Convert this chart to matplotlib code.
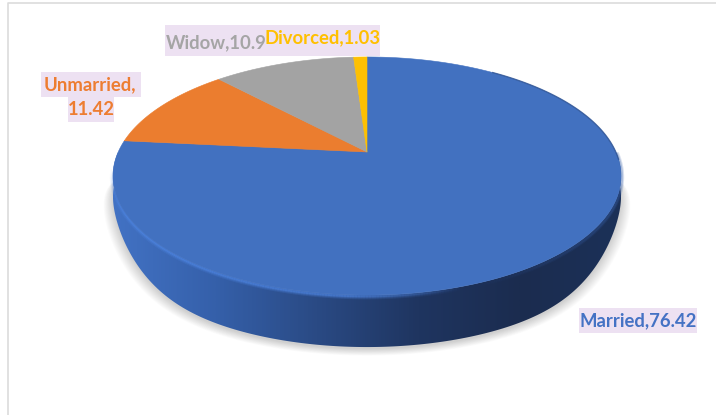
import numpy as np
import matplotlib
matplotlib.use("Agg")
import matplotlib.pyplot as plt
from matplotlib.collections import LineCollection
from matplotlib.colors import LinearSegmentedColormap, to_rgb
from matplotlib.patches import Polygon, Rectangle

plt.rcParams['font.family'] = ['Lato', 'DejaVu Sans']

categories = ["Married", "Unmarried", "Widow", "Divorced"]
values = [76.42, 11.42, 10.9, 1.03]
colors = ["#4271c0", "#eb7d2f", "#a3a3a3", "#fdc002"]
label_colors = ["#4472c4", "#ed7d31", "#a5a5a5", "#ffc000"]

# pie centre in pixels and the perspective used to tilt the disc
CX, CY = 367, 152
A, B, K = 248.8, 114.2, 0.2017
DEPTH = 52
FONT_SIZE = 13.3


def project(theta):
    """Clockwise angle from 12 o'clock to a point on the tilted rim"""
    u, v = np.sin(theta), np.cos(theta)
    return CX + A * u / (1 + K * v), CY - B * v / (1 + K * v)


def bottom_rim(theta):
    """Underside of the disc, the wall looks shallower towards the sides"""
    x, y = project(theta)
    reach = np.abs(x - CX) / 254
    return x, y + DEPTH * (1 - 0.6 * reach ** 8)


fig = plt.figure(figsize=(7.16, 4.15), dpi=100)
ax = fig.add_axes([0, 0, 1, 1])
ax.set_xlim(0, 716)
ax.set_ylim(415, 0)
ax.axis('off')

# thin chart frame, only the top and left edges are in view
ax.plot([8, 8, 716], [415, 3.5, 3.5], color="#dcdcdc", lw=1.2, zorder=1)

# soft shadow below the disc
t = np.linspace(0, 2 * np.pi, 400)
low_x, low_y = bottom_rim(t)
for grow in np.linspace(11, 0, 12):
    ax.add_patch(Polygon(np.c_[CX + (low_x - CX) * (1 + grow / 300),
                               low_y + 2 + grow * 0.6],
                         fc="#000000", ec="none", alpha=0.014, zorder=2))

# side wall, shaded from left to right and clipped to the extruded outline
side_cmap = LinearSegmentedColormap.from_list(
    "side", ["#4272c4", "#3560aa", "#2a4a84", "#1f3560", "#1b2c4f", "#1c3158"])
wall = np.linspace(0, 1, 512)[None, :]
rim_x, rim_y = project(t)
im = ax.imshow(wall, cmap=side_cmap, extent=(rim_x.min(), rim_x.max(), 360, 120),
               aspect='auto', zorder=3)
ax.set_xlim(0, 716)
ax.set_ylim(415, 0)

lx, ly = bottom_rim(np.linspace(1.5 * np.pi, 0.5 * np.pi, 200))
tx, ty = project(np.linspace(0.5 * np.pi, 1.5 * np.pi, 200))
wall_path = Polygon(np.r_[np.c_[lx, ly], np.c_[tx, ty]], fc="none", ec="none")
ax.add_patch(wall_path)
im.set_clip_path(wall_path)

# bevel where the top face meets the wall, bright on the left fading out to the right
bevel = np.linspace(1.46 * np.pi, 0.9 * np.pi, 200)
bx, by = project(bevel)
points = np.c_[bx, by + 1.2]
segments = np.stack([points[:-1], points[1:]], axis=1)
fade = np.clip(np.sin((1.46 * np.pi - bevel[:-1]) / (0.56 * np.pi) * np.pi) * 1.6, 0, 1)
for width, alpha in [(4.5, 0.2), (3.0, 0.3), (1.6, 0.5)]:
    rgba = np.c_[np.tile(to_rgb("#4f86e2"), (len(fade), 1)), fade * alpha]
    ax.add_collection(LineCollection(segments, colors=rgba, linewidths=width, zorder=4))

# soft dark edge on the right half of the front rim
shade = np.linspace(0.9 * np.pi, 0.5 * np.pi, 200)
bx, by = project(shade)
points = np.c_[bx, by + 1.2]
segments = np.stack([points[:-1], points[1:]], axis=1)
fade = np.clip((0.9 * np.pi - shade[:-1]) / (0.25 * np.pi), 0, 1)
for width, alpha in [(4.5, 0.2), (3.0, 0.3)]:
    rgba = np.c_[np.tile(to_rgb("#3a62ab"), (len(fade), 1)), fade * alpha]
    ax.add_collection(LineCollection(segments, colors=rgba, linewidths=width, zorder=4))

# top face, one wedge per category starting at 12 o'clock
edges = np.r_[0, np.cumsum(values)] / np.sum(values) * 2 * np.pi
for start, stop, color in zip(edges[:-1], edges[1:], colors):
    x, y = project(np.linspace(start, stop, 240))
    ax.add_patch(Polygon(np.r_[[[CX, CY]], np.c_[x, y]], fc=color, ec=color,
                         lw=0.4, joinstyle='round', zorder=5))

# darker line along the far right of the rim
rx, ry = project(np.linspace(0.2 * np.pi, 0.52 * np.pi, 80))
ax.plot(rx, ry, color="#2f528f", lw=1.0, alpha=0.7, zorder=5)

# data labels on pale purple boxes
boxes = [(579, 308, 118, 25), (41, 72, 100, 25), (68, 97, 46, 25),
         (165, 25, 102, 31), (266, 25, 114, 31)]
for x, y, w, h in boxes:
    ax.add_patch(Rectangle((x, y), w, h, fc="#ede1f2", ec="none", zorder=6))

label_style = dict(fontsize=FONT_SIZE, fontweight='bold', ha='center', va='center', zorder=7)
ax.text(638, 320.5, f"{categories[0]},{values[0]}", color=label_colors[0], **label_style)
ax.text(90, 85, f"{categories[1]},", color=label_colors[1], **label_style)
ax.text(91, 109.5, f"{values[1]}", color=label_colors[1], **label_style)
ax.text(216, 43, f"{categories[2]},{values[2]}", color=label_colors[2], **label_style)
ax.text(323, 38, f"{categories[3]},{values[3]}", color=label_colors[3], **label_style)

fig.savefig("out.png", dpi=100)
